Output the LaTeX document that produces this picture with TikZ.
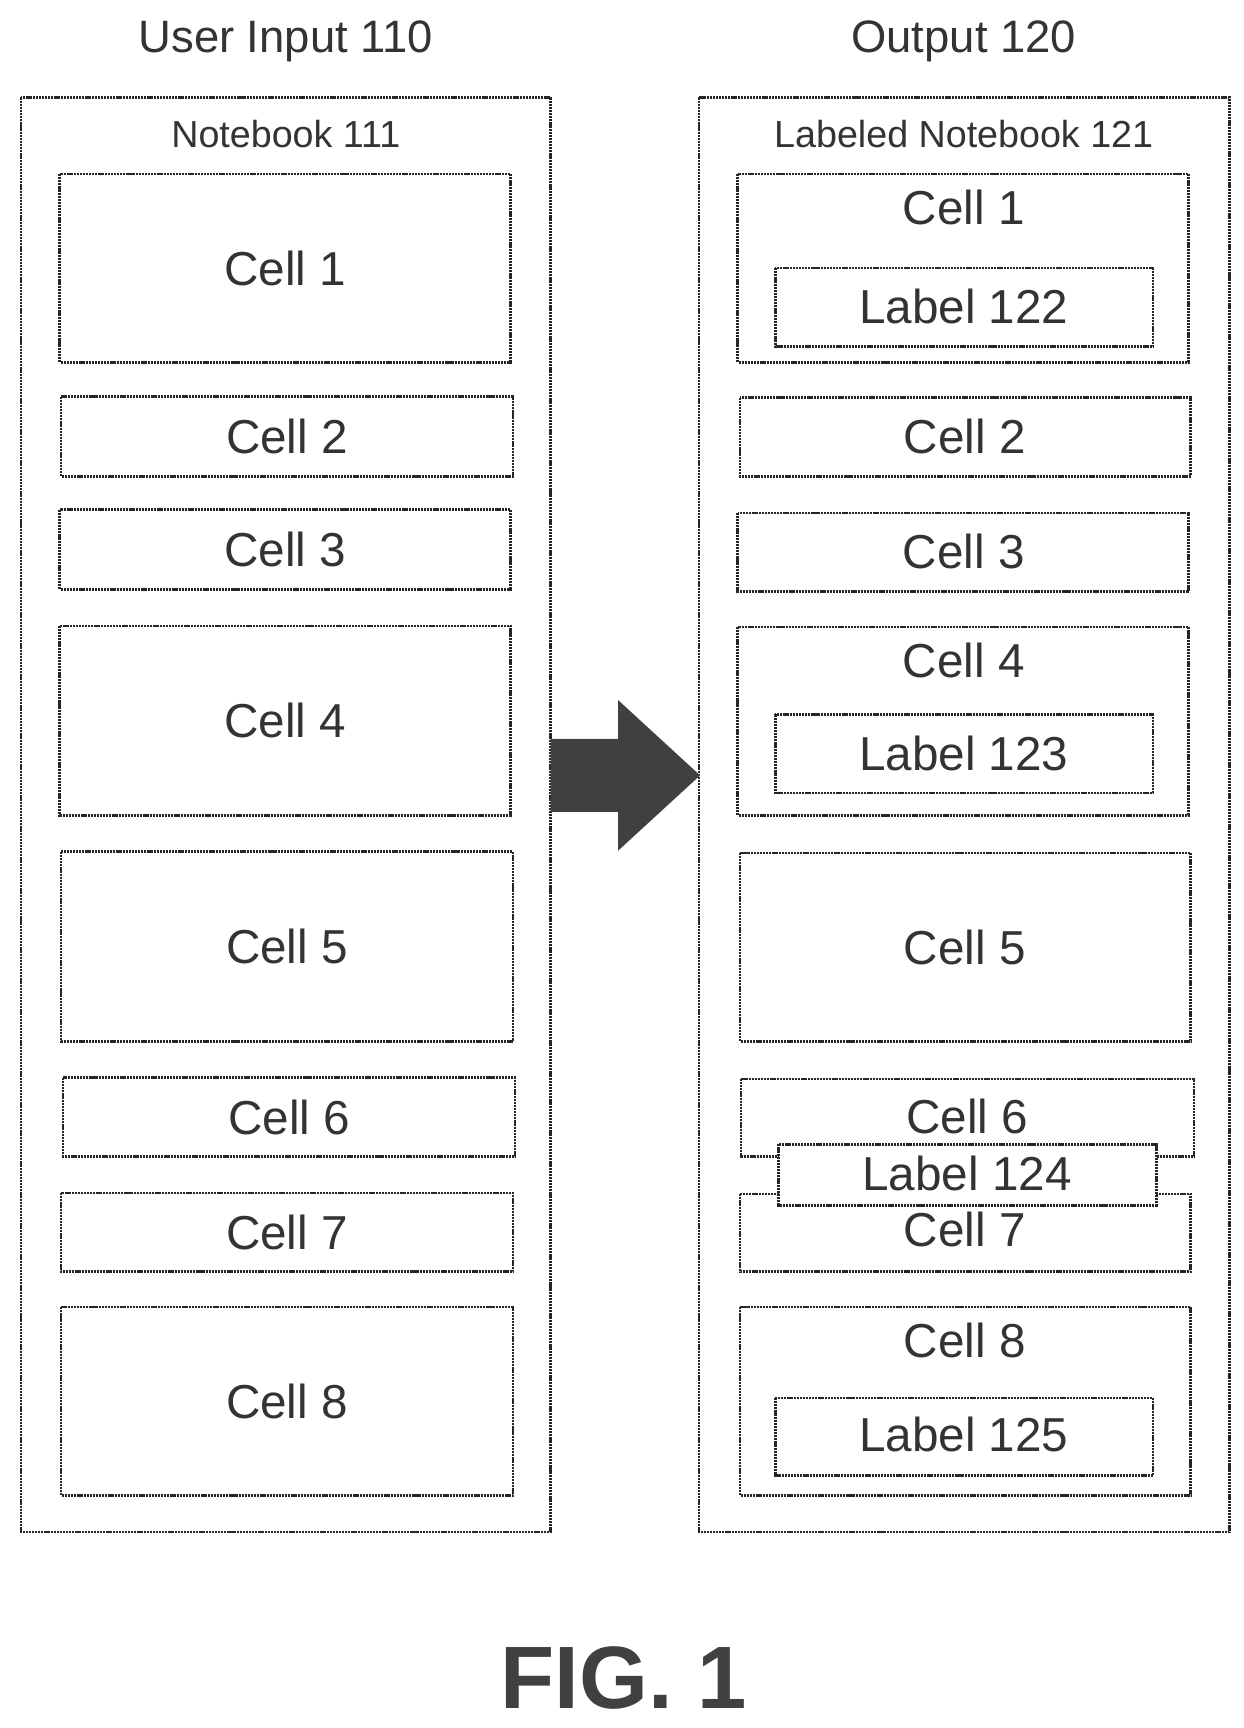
\documentclass[tikz,border=0pt]{standalone}
\usepackage{fontspec}
\setmainfont{Liberation Sans}
\begin{document}
\begin{tikzpicture}[x=1pt,y=-1pt,
 box/.style={draw=black!85,line width=2.4pt,dash pattern=on 2pt off 0.8pt},
 txt/.style={font=\fontsize{43}{48}\selectfont,text=black!80,inner sep=0},
 ttl/.style={font=\fontsize{41}{46}\selectfont,text=black!80,inner sep=0},
 nb/.style={font=\fontsize{34}{38}\selectfont,text=black!80,inner sep=0}]
\useasboundingbox (0,0) rectangle (1123,1560);
\node[ttl] (t1) at (258,37) {User Input 110};
\node[ttl] (t2) at (870,37) {Output 120};
\draw[box] (19,88) rectangle (497,1383);
\draw[box] (631,88) rectangle (1110,1383);
\node[nb] (n1) at (258,121) {Notebook 111};
\node[nb] (n2) at (870,121) {Labeled Notebook 121};
% left cells
\foreach \a/\b/\c/\d/\t in {54/157/461/327/1,55/358/463/430/2,54/460/461/532/3,54/565/461/736/4,55/769/463/940/5,57/973/465/1044/6,55/1077/463/1148/7,55/1180/463/1350/8}{
 \draw[box] (\a,\b) rectangle (\c,\d);
 \node[txt] (L\t) at ({(\a+\c)/2},{(\b+\d)/2}) {Cell \t};
}
% right cells
\draw[box] (666,157) rectangle (1073,327); \node[txt] (R1) at (870,187) {Cell 1};
\draw[box] (700,242) rectangle (1041,313); \node[txt] (B122) at (870,277) {Label 122};
\draw[box] (668,359) rectangle (1075,430); \node[txt] (R2) at (871,394) {Cell 2};
\draw[box] (666,463) rectangle (1073,534); \node[txt] (R3) at (870,498) {Cell 3};
\draw[box] (666,566) rectangle (1073,736); \node[txt] (R4) at (870,596) {Cell 4};
\draw[box] (700,645) rectangle (1041,716); \node[txt] (B123) at (870,680) {Label 123};
\draw[box] (668,770) rectangle (1075,940); \node[txt] (R5) at (871,855) {Cell 5};
\draw[box] (669,974) rectangle (1078,1044); \node[txt] (R6) at (873,1008) {Cell 6};
\draw[box] (668,1078) rectangle (1075,1148); \node[txt] (R7) at (871,1110) {Cell 7};
\draw[box,fill=white] (703,1033) rectangle (1044,1088); \node[txt] (B124) at (873,1059) {Label 124};
\draw[box] (668,1180) rectangle (1075,1350); \node[txt] (R8) at (871,1210) {Cell 8};
\draw[box] (700,1262) rectangle (1041,1332); \node[txt] (B125) at (870,1295) {Label 125};
% arrow
\fill[black!75] (497,667) -- (558,667) -- (558,632) -- (632,700) -- (558,768) -- (558,733) -- (497,733) -- cycle;
\node[font=\bfseries\fontsize{80}{84}\selectfont,text=black!75,inner sep=0] (fig) at (563,1515) {FIG. 1};
\end{tikzpicture}
\end{document}
